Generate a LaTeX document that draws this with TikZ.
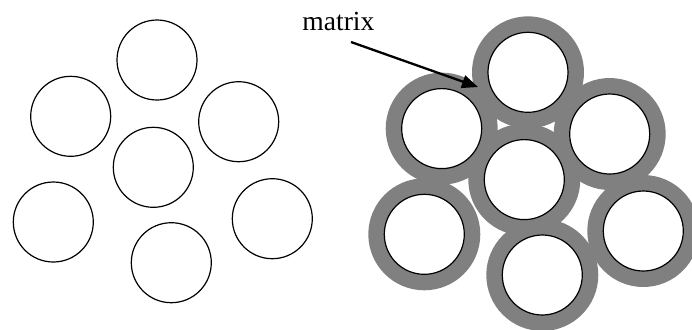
\documentclass[tikz,border=0pt]{standalone}
\usepackage{fontspec}
\setmainfont{Liberation Serif}
\usetikzlibrary{arrows.meta}
\definecolor{matrixgray}{RGB}{128,128,128}

\begin{document}
\begin{tikzpicture}[x=0.5pt,y=-0.5pt,
  fibre/.style={circle,draw,line width=0.6pt,fill=white,minimum size=40pt,inner sep=0pt},
  coat/.style={circle,fill=matrixgray,minimum size=56pt,inner sep=0pt},
  lbl/.style={font=\fontsize{13.8}{16}\selectfont,inner sep=0pt},
  arr/.style={-{Triangle[length=8pt,width=6.5pt]},line width=1.15pt}
]
\useasboundingbox (0,0) rectangle (692,329);

% bare fibres
\node[fibre] (a1) at (157,60) {};
\node[fibre] (a2) at (70.7,116.3) {};
\node[fibre] (a3) at (238.7,121.7) {};
\node[fibre] (a4) at (153.3,167.3) {};
\node[fibre] (a5) at (53.3,222) {};
\node[fibre] (a6) at (272.3,218.7) {};
\node[fibre] (a7) at (171.3,262.7) {};

% coated fibres in matrix
\begin{scope}[shift={(371,12.3)}]
\node[coat] (c1) at (157,60) {};
\node[coat] (c2) at (70.7,116.3) {};
\node[coat] (c3) at (238.7,121.7) {};
\node[coat] (c4) at (153.3,167.3) {};
\node[coat] (c5) at (53.3,222) {};
\node[coat] (c6) at (272.3,218.7) {};
\node[coat] (c7) at (171.3,262.7) {};
\node[fibre] (b1) at (157,60) {};
\node[fibre] (b2) at (70.7,116.3) {};
\node[fibre] (b3) at (238.7,121.7) {};
\node[fibre] (b4) at (153.3,167.3) {};
\node[fibre] (b5) at (53.3,222) {};
\node[fibre] (b6) at (272.3,218.7) {};
\node[fibre] (b7) at (171.3,262.7) {};
\end{scope}

\node[lbl,anchor=base west] (mlabel) at (302,30) {matrix};
\coordinate (mtail) at (351,42);
\coordinate (mtip) at (478,87);
\draw[arr] (mtail) -- (mtip);
\end{tikzpicture}
\end{document}
